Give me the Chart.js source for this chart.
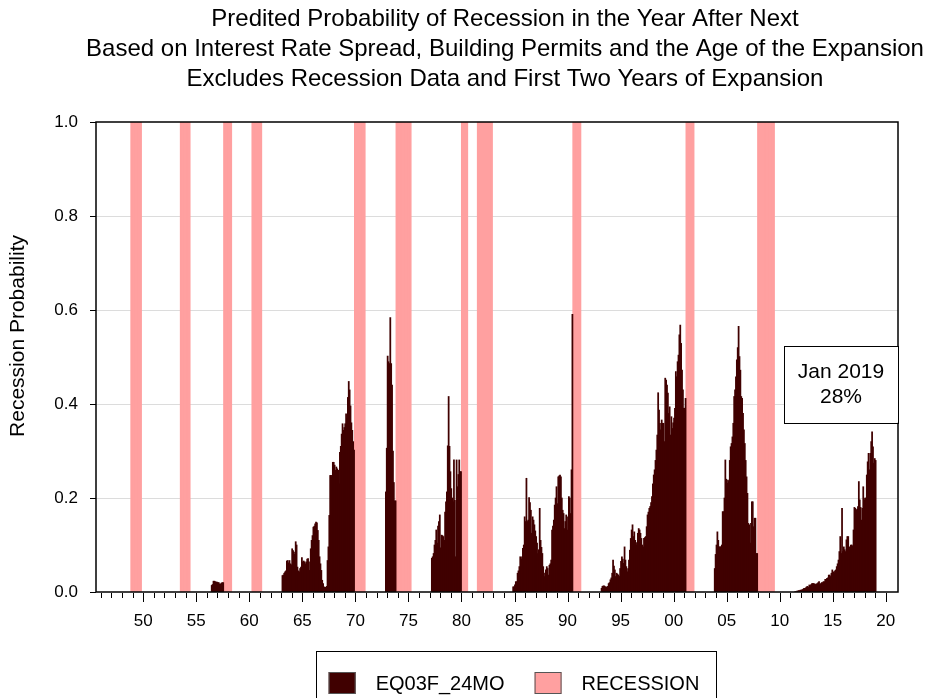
<!DOCTYPE html>
<html>
<head>
<meta charset="utf-8">
<script src="https://cdn.jsdelivr.net/npm/chart.js@4.4.1/dist/chart.umd.min.js"></script>
<style>
  html, body { margin: 0; padding: 0; background: #fff; }
</style>
</head>
<body>
<canvas id="chart" width="932" height="698"></canvas>
<script>
const FONT = '"Liberation Sans", Arial, Helvetica, sans-serif';

// text
const titleLines = [
    'Predited Probability of Recession in the Year After Next',
    'Based on Interest Rate Spread, Building Permits and the Age of the Expansion',
    'Excludes Recession Data and First Two Years of Expansion'
];
const yTitle = 'Recession Probability';
const seriesNames = ['EQ03F_24MO', 'RECESSION'];
const noteLines = ['Jan 2019', '28%'];

// axis ticks
const yTicks = [0, 0.2, 0.4, 0.6, 0.8, 1.0];
const majorYears = [1950, 1955, 1960, 1965, 1970, 1975, 1980, 1985, 1990, 1995, 2000, 2005, 2010, 2015, 2020];
const majorLabels = ['50', '55', '60', '65', '70', '75', '80', '85', '90', '95', '00', '05', '10', '15', '20'];

// NBER recessions (peak month .. trough month)
const recPeak = ['1948-11', '1953-07', '1957-08', '1960-04', '1969-12', '1973-11', '1980-01', '1981-07', '1990-07', '2001-03', '2007-12'];
const recTrough = ['1949-10', '1954-05', '1958-04', '1961-02', '1970-11', '1975-03', '1980-07', '1982-11', '1991-03', '2001-11', '2009-06'];

// monthly predicted probability, one array per expansion (first month in segStart)
const segStart = ['1956-06', '1963-02', '1972-11', '1977-03', '1984-11', '1993-03', '2003-11', '2011-06'];
const eq1956 = [0.014, 0.016, 0.023, 0.023, 0.022, 0.021, 0.021, 0.02, 0.02, 0.017, 0.017, 0.019, 0.02, 0.02];
const eq1963 = [
    0.035, 0.036, 0.04, 0.043, 0.045, 0.066, 0.067, 0.062, 0.067, 0.06, 0.058,
    0.092, 0.088, 0.085, 0.08, 0.107, 0.1, 0.053, 0.045, 0.043, 0.05, 0.053, 0.073,
    0.064, 0.066, 0.064, 0.06, 0.064, 0.07, 0.071, 0.064, 0.046, 0.092, 0.11, 0.12,
    0.138, 0.14, 0.145, 0.149, 0.147, 0.131, 0.11, 0.075, 0.06, 0.046, 0.025, 0.018,
    0.011, 0.01, 0.01, 0.012, 0.067, 0.096, 0.163, 0.248, 0.248, 0.245, 0.276, 0.276,
    0.27, 0.259, 0.266, 0.262, 0.259, 0.23, 0.297, 0.31, 0.336, 0.358, 0.344, 0.35,
    0.358, 0.379, 0.37, 0.414, 0.448, 0.43, 0.396, 0.36, 0.344, 0.32, 0.302
];
const eq1972 = [0.213, 0.306, 0.502, 0.49, 0.486, 0.584, 0.486, 0.44, 0.3, 0.233, 0.194, 0.194];
const eq1977 = [
    0.072, 0.075, 0.082, 0.1, 0.11, 0.132, 0.104, 0.14, 0.15, 0.164,
    0.094, 0.121, 0.12, 0.118, 0.11, 0.17, 0.192, 0.213, 0.311, 0.416, 0.31, 0.256,
    0.22, 0.2, 0.192, 0.281, 0.195, 0.075, 0.281, 0.224, 0.25, 0.281, 0.256, 0.256
];
const eq1984 = [
    0.011, 0.011,
    0.015, 0.022, 0.022, 0.04, 0.045, 0.054, 0.075, 0.07, 0.075, 0.093, 0.1, 0.16,
    0.15, 0.242, 0.15, 0.153, 0.201, 0.19, 0.174, 0.125, 0.16, 0.153, 0.143, 0.13,
    0.118, 0.104, 0.082, 0.09, 0.178, 0.11, 0.095, 0.082, 0.054, 0.033, 0.04, 0.047,
    0.054, 0.05, 0.036, 0.057, 0.06, 0.068, 0.132, 0.14, 0.153, 0.185, 0.2, 0.224,
    0.188, 0.245, 0.247, 0.249, 0.245, 0.2, 0.174, 0.167, 0.135, 0.15, 0.164, 0.132,
    0.16, 0.203, 0.2, 0.167, 0.26, 0.591
];
const eq1993 = [
    0.008, 0.012, 0.013, 0.013, 0.011, 0.011, 0.01, 0.012, 0.018, 0.02,
    0.026, 0.03, 0.04, 0.068, 0.055, 0.047, 0.033, 0.04, 0.038, 0.036, 0.033, 0.05,
    0.065, 0.075, 0.07, 0.061, 0.096, 0.068, 0.054, 0.043, 0.05, 0.068, 0.089, 0.114,
    0.132, 0.143, 0.118, 0.128, 0.11, 0.105, 0.1, 0.125, 0.135, 0.132, 0.125, 0.114,
    0.1, 0.096, 0.114, 0.116, 0.118, 0.139, 0.164, 0.17, 0.178, 0.182, 0.19, 0.203,
    0.23, 0.249, 0.26, 0.28, 0.302, 0.334, 0.424, 0.387, 0.359, 0.345, 0.366, 0.359,
    0.359, 0.32, 0.455, 0.451, 0.44, 0.423, 0.38, 0.394, 0.334, 0.373, 0.348, 0.36,
    0.37, 0.391, 0.469, 0.458, 0.49, 0.504, 0.547, 0.568, 0.529, 0.472, 0.43, 0.391,
    0.391, 0.412
];
const eq2003 = [
    0.05, 0.08,
    0.1, 0.128, 0.11, 0.096, 0.096, 0.096, 0.1, 0.171, 0.171, 0.2, 0.281, 0.24,
    0.231, 0.238, 0.235, 0.28, 0.309, 0.316, 0.33, 0.359, 0.416, 0.43, 0.458, 0.494,
    0.52, 0.565, 0.501, 0.472, 0.416, 0.412, 0.38, 0.345, 0.316, 0.28, 0.245, 0.21,
    0.146, 0.143, 0.104, 0.146, 0.192, 0.192, 0.139, 0.157, 0.157, 0.082, 0.082
];
const eq2011 = [
    0.001, 0.001, 0.002, 0.002, 0.003, 0.003, 0.004,
    0.004, 0.005, 0.006, 0.008, 0.008, 0.009, 0.011, 0.012, 0.01, 0.015, 0.014, 0.016,
    0.018, 0.018, 0.018, 0.017, 0.016, 0.017, 0.018, 0.02, 0.022, 0.016, 0.018, 0.02,
    0.02, 0.022, 0.022, 0.027, 0.027, 0.029, 0.03, 0.036, 0.036, 0.033, 0.04, 0.047,
    0.043, 0.041, 0.045, 0.047, 0.054, 0.06, 0.068, 0.086, 0.118, 0.082, 0.178, 0.086,
    0.096, 0.09, 0.086, 0.111, 0.118, 0.118, 0.096, 0.089, 0.1, 0.1, 0.098, 0.132,
    0.18, 0.178, 0.174, 0.176, 0.182, 0.235, 0.196, 0.18, 0.153, 0.178, 0.224, 0.196,
    0.2, 0.2, 0.249, 0.277, 0.295, 0.26, 0.295, 0.32, 0.341, 0.309, 0.274, 0.284,
    0.28
];
const segValues = [eq1956, eq1963, eq1972, eq1977, eq1984, eq1993, eq2003, eq2011];

// month string + offset -> decimal year at the middle of the month
function monthX(s, k) {
    const [yr, mo] = s.split('-').map(Number);
    return yr + (mo - 1 + k) / 12 + 1 / 24;
}

const eqPoints = [];
segStart.forEach((s, i) => {
    segValues[i].forEach((v, k) => eqPoints.push({ x: monthX(s, k), y: v }));
});

const recPoints = [];
recPeak.forEach((p, i) => {
    const [py, pm] = p.split('-').map(Number);
    const [ty, tm] = recTrough[i].split('-').map(Number);
    const n = (ty - py) * 12 + (tm - pm);
    for (let k = 0; k <= n; k++) recPoints.push({ x: monthX(p, k), y: 1 });
});

const allYears = [];
for (let yr = 1946; yr <= 2020; yr++) allYears.push(yr);

const decor = {
    id: 'decor',
    beforeDraw(chart) {
        const ctx = chart.ctx;
        ctx.save();
        ctx.fillStyle = '#fff';
        ctx.fillRect(0, 0, chart.width, chart.height);
        ctx.restore();
    },
    afterDraw(chart) {
        const { ctx, chartArea: a, scales: { x, y } } = chart;
        ctx.save();

        // plot frame
        ctx.strokeStyle = '#000';
        ctx.lineWidth = 1.5;
        ctx.strokeRect(a.left, a.top, a.right - a.left, a.bottom - a.top);

        // year ticks below the axis, longer every 5 years
        ctx.lineWidth = 1;
        allYears.forEach(v => {
            const px = Math.round(x.getPixelForValue(v)) + 0.5;
            const len = majorYears.includes(v) ? 9 : 5;
            ctx.beginPath();
            ctx.moveTo(px, a.bottom + 1);
            ctx.lineTo(px, a.bottom + 1 + len);
            ctx.stroke();
        });

        // title
        ctx.fillStyle = '#000';
        ctx.textAlign = 'center';
        ctx.textBaseline = 'middle';
        ctx.font = '24px ' + FONT;
        const cx = (a.left + a.right) / 2 + 8;
        titleLines.forEach((t, i) => ctx.fillText(t, cx, 19 + i * 30));

        // y axis title
        ctx.save();
        ctx.translate(18, (a.top + a.bottom) / 2 - 21);
        ctx.rotate(-Math.PI / 2);
        ctx.font = '21px ' + FONT;
        ctx.fillText(yTitle, 0, 0);
        ctx.restore();

        // note box
        const nl = x.getPixelForValue(2010.4), nr = a.right;
        const nt = y.getPixelForValue(0.523), nb = y.getPixelForValue(0.36);
        ctx.fillStyle = '#fff';
        ctx.fillRect(nl, nt, nr - nl, nb - nt);
        ctx.strokeRect(Math.round(nl) + 0.5, Math.round(nt) + 0.5, Math.round(nr - nl), Math.round(nb - nt));
        ctx.fillStyle = '#000';
        ctx.font = '21px ' + FONT;
        noteLines.forEach((t, i) => ctx.fillText(t, (nl + nr) / 2, nt + (nb - nt) * (i + 1) / 3));

        // legend
        ctx.font = '20px ' + FONT;
        const bw = 27, bh = 22, gap = 20, sep = 30;
        const ds = chart.data.datasets;
        const widths = ds.map(d => bw + gap + ctx.measureText(d.label).width);
        const total = widths.reduce((s, w) => s + w, 0) + sep * (ds.length - 1);
        let lx = (a.left + a.right) / 2 + 17 - total / 2;
        const ly = a.bottom + 80;
        ctx.strokeStyle = '#000';
        ctx.strokeRect(Math.round(lx - 13) + 0.5, a.bottom + 59.5, Math.round(total + 29), 60);
        ctx.textAlign = 'left';
        ds.forEach((d, i) => {
            ctx.fillStyle = d.backgroundColor;
            ctx.fillRect(lx, ly, bw, bh);
            ctx.strokeStyle = '#555';
            ctx.strokeRect(lx + 0.5, ly + 0.5, bw - 1, bh - 1);
            ctx.fillStyle = '#000';
            ctx.fillText(d.label, lx + bw + gap, ly + bh / 2 + 1);
            lx += widths[i] + sep;
        });

        ctx.restore();
    }
};

new Chart(document.getElementById('chart'), {
    type: 'bar',
    data: {
        datasets: [{
            label: seriesNames[0],
            data: eqPoints,
            backgroundColor: '#400000',
            borderWidth: 0,
            barThickness: 1.1,
            grouped: false,
            order: 0
        }, {
            label: seriesNames[1],
            data: recPoints,
            backgroundColor: '#ffa0a0',
            borderWidth: 0,
            barThickness: 1.2,
            grouped: false,
            order: 1
        }]
    },
    options: {
        responsive: false,
        animation: false,
        layout: { padding: { top: 122, right: 34, bottom: 56, left: 0 } },
        plugins: {
            legend: { display: false },
            title: { display: false },
            tooltip: { enabled: false }
        },
        scales: {
            x: {
                type: 'linear',
                min: 1945.55,
                max: 2021.15,
                offset: false,
                afterBuildTicks: s => { s.ticks = allYears.map(v => ({ value: v })); },
                afterFit: s => { s.height = 50; },
                grid: { display: true, drawOnChartArea: false, drawTicks: false },
                border: { display: false },
                ticks: {
                    autoSkip: false,
                    maxRotation: 0,
                    padding: 19,
                    color: '#000',
                    font: { family: FONT, size: 17 },
                    callback: v => {
                        const i = majorYears.indexOf(v);
                        return i >= 0 ? majorLabels[i] : '';
                    }
                }
            },
            y: {
                min: 0,
                max: 1,
                afterBuildTicks: s => { s.ticks = yTicks.map(v => ({ value: v })); },
                afterFit: s => { s.width = 96; },
                border: { display: false },
                grid: {
                    color: c => (c.tick && (c.tick.value === 0 || c.tick.value === 1)) ? 'rgba(0,0,0,0)' : '#dcdcdc',
                    tickColor: '#000',
                    tickLength: 6,
                    lineWidth: 1
                },
                ticks: {
                    padding: 12,
                    color: '#000',
                    font: { family: FONT, size: 17 },
                    callback: v => v.toFixed(1)
                }
            }
        }
    },
    plugins: [decor]
});
</script>
</body>
</html>
